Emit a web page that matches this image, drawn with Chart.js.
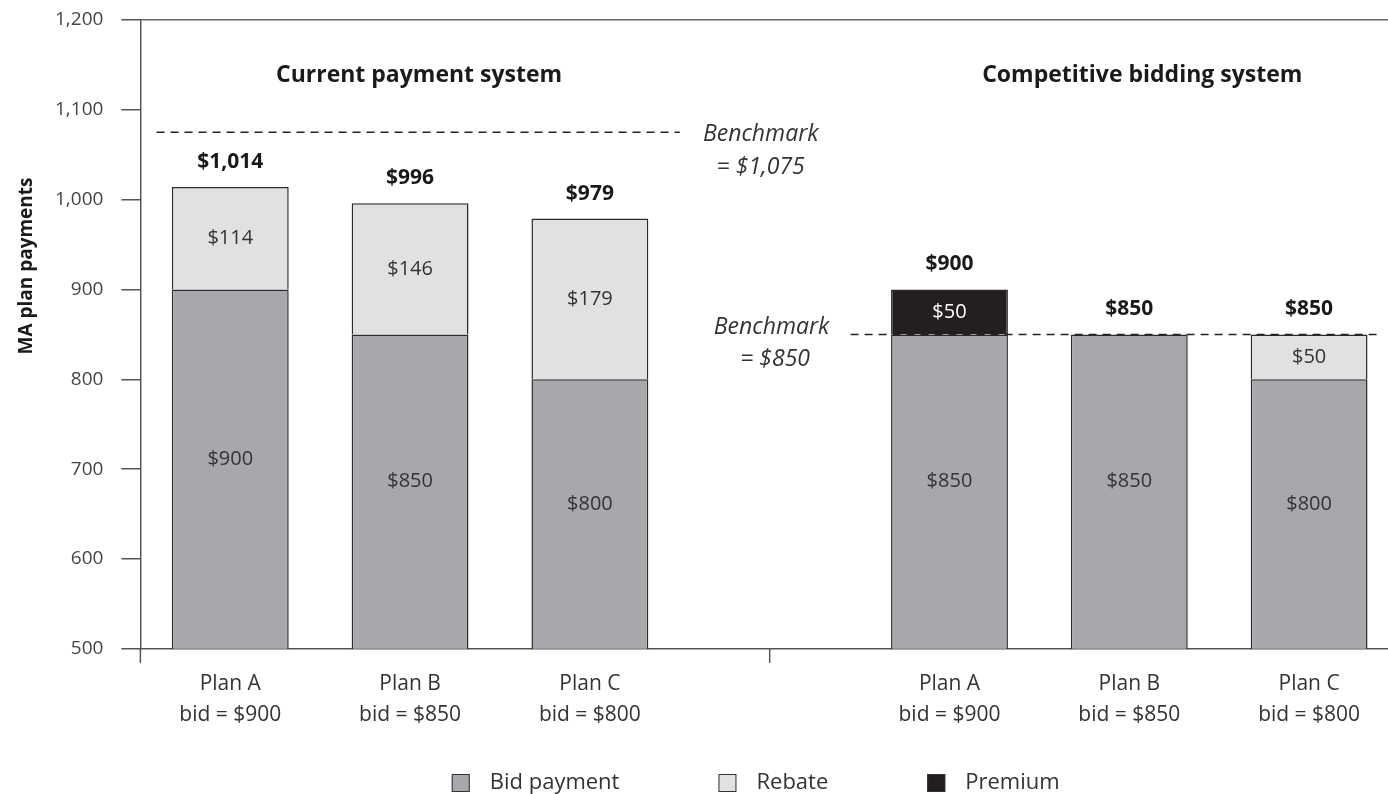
<!DOCTYPE html>
<html>
<head>
<meta charset="utf-8">
<script src="https://cdn.jsdelivr.net/npm/chart.js@4.4.1/dist/chart.umd.min.js"></script>
<style>
  html, body { margin: 0; padding: 0; background: #fff; overflow: hidden; }
  #wrap { width: 1400px; height: 794px; }
</style>
</head>
<body>
<div id="wrap"><canvas id="chartPagos" width="1400" height="794"></canvas></div>
<script>
// plan columns; the empty slot separates the two payment systems
const categories = [
  ['Plan A', 'bid = $900'], ['Plan B', 'bid = $850'], ['Plan C', 'bid = $800'],
  '',
  ['Plan A', 'bid = $900'], ['Plan B', 'bid = $850'], ['Plan C', 'bid = $800']
];
const bidPayment = [900, 850, 800, null, 850, 850, 800];
const rebate     = [114, 146, 179, null, null, null, 50];
const premium    = [null, null, null, null, 50, null, null];
const benchmarks = [1075, 850];
const groupTitles = ['Current payment system', 'Competitive bidding system'];
const yTicks = [500, 600, 700, 800, 900, 1000, 1100, 1200];

const FONT = '"Open Sans", "Noto Sans", sans-serif';
const money = v => '$' + v.toLocaleString('en-US');

// labels, benchmark lines, titles and the two small x ticks
const annotations = {
  id: 'annotations',
  afterDatasetsDraw(chart) {
    const { ctx, chartArea } = chart;
    const x = chart.scales.x, y = chart.scales.y;
    const slot = x.getPixelForValue(1) - x.getPixelForValue(0);
    const xAt = f => x.getPixelForValue(0) + f * slot;

    ctx.save();
    ctx.textAlign = 'center';
    ctx.textBaseline = 'middle';

    // segment values
    const labelBase = y.getPixelForValue(y.min) - 20;
    chart.data.datasets.forEach((ds, di) => {
      const meta = chart.getDatasetMeta(di);
      meta.data.forEach((bar, i) => {
        const v = ds.data[i];
        if (v == null) return;
        const p = bar.getProps(['x', 'y', 'base'], true);
        const cy = di === 0 ? (p.y + labelBase) / 2 : (p.y + p.base) / 2;
        ctx.font = '20px ' + FONT;
        ctx.fillStyle = di === 2 ? '#ffffff' : '#333333';
        ctx.fillText(money(v), p.x, cy);
      });
    });

    // stack totals
    ctx.font = 'bold 21px ' + FONT;
    ctx.fillStyle = '#1a1a1a';
    categories.forEach((c, i) => {
      const total = chart.data.datasets.reduce((s, ds) => s + (ds.data[i] || 0), 0);
      if (!total) return;
      ctx.fillText(money(total), x.getPixelForValue(i), y.getPixelForValue(total) - 25);
    });

    // benchmark lines
    const spans = [[-0.41, 2.5], [3.45, 6.38]];
    ctx.strokeStyle = '#222';
    ctx.lineWidth = 1.5;
    ctx.setLineDash([8, 6]);
    benchmarks.forEach((b, k) => {
      const by = y.getPixelForValue(b);
      ctx.beginPath();
      ctx.moveTo(xAt(spans[k][0]), by);
      ctx.lineTo(xAt(spans[k][1]), by);
      ctx.stroke();
    });
    ctx.setLineDash([]);

    ctx.font = 'italic 23px ' + FONT;
    ctx.fillStyle = '#333';
    const b1 = y.getPixelForValue(benchmarks[0]);
    ctx.fillText('Benchmark', xAt(2.95), b1 + 2);
    ctx.fillText('= ' + money(benchmarks[0]), xAt(2.95), b1 + 35);
    const b2 = y.getPixelForValue(benchmarks[1]);
    ctx.fillText('Benchmark', xAt(3.01), b2 - 7);
    ctx.fillText('= ' + money(benchmarks[1]), xAt(3.03), b2 + 25);

    // group headings
    ctx.font = 'bold 23px ' + FONT;
    ctx.fillStyle = '#1a1a1a';
    ctx.fillText(groupTitles[0], x.getPixelForValue(1) + 9, chartArea.top + 55);
    ctx.fillText(groupTitles[1], x.getPixelForValue(5) + 13, chartArea.top + 55);

    // x tick marks: axis origin and the group divider
    ctx.strokeStyle = '#555';
    ctx.lineWidth = 1.5;
    [chartArea.left, x.getPixelForValue(3)].forEach(px => {
      ctx.beginPath();
      ctx.moveTo(px, chartArea.bottom);
      ctx.lineTo(px, chartArea.bottom + 14);
      ctx.stroke();
    });

    // y axis title
    ctx.translate(27, 266);
    ctx.rotate(-Math.PI / 2);
    ctx.font = 'bold 19px ' + FONT;
    ctx.fillStyle = '#1a1a1a';
    ctx.fillText('MA plan payments', 0, 0);
    ctx.restore();
  }
};

// legend row under the axis labels
const bottomLegend = {
  id: 'bottomLegend',
  afterDraw(chart) {
    const { ctx, chartArea } = chart;
    const box = 18, gapText = 20, gapItem = 99;
    ctx.save();
    ctx.font = '22px ' + FONT;
    const items = chart.data.datasets.map(ds => ({
      label: ds.label, color: ds.backgroundColor, w: ctx.measureText(ds.label).width
    }));
    const total = items.reduce((s, it) => s + box + gapText + it.w, 0) + gapItem * (items.length - 1);
    let cx = (chartArea.left + chartArea.right) / 2 - 14 - total / 2;
    const cy = 783;
    ctx.textBaseline = 'middle';
    items.forEach(it => {
      ctx.fillStyle = it.color;
      ctx.fillRect(cx, cy - box / 2, box, box);
      ctx.strokeStyle = '#333';
      ctx.lineWidth = 1;
      ctx.strokeRect(cx + 0.5, cy - box / 2 + 0.5, box - 1, box - 1);
      ctx.fillStyle = '#333';
      ctx.fillText(it.label, cx + box + gapText, cy);
      cx += box + gapText + it.w + gapItem;
    });
    ctx.restore();
  }
};

const barStyle = {
  borderColor: '#2b2b2b',
  borderWidth: 1.5,
  barPercentage: 0.65,
  categoryPercentage: 1
};

new Chart(document.getElementById('chartPagos'), {
  type: 'bar',
  data: {
    labels: categories,
    datasets: [
      { label: 'Bid payment', data: bidPayment, backgroundColor: '#a7a8ab', borderSkipped: false, ...barStyle },
      { label: 'Rebate', data: rebate, backgroundColor: '#e0e1e3', borderSkipped: 'bottom', ...barStyle },
      { label: 'Premium', data: premium, backgroundColor: '#231f20', borderSkipped: 'bottom', ...barStyle }
    ]
  },
  options: {
    responsive: false,
    animation: false,
    layout: { padding: { left: 37, right: 1, top: 20, bottom: 51 } },
    plugins: {
      legend: { display: false },
      tooltip: { enabled: false }
    },
    scales: {
      x: {
        stacked: true,
        grid: { display: false },
        border: { display: true, color: '#555', width: 1.5 },
        ticks: {
          font: { family: FONT, size: 21, lineHeight: 1.48 },
          color: '#333',
          padding: 12,
          maxRotation: 0,
          autoSkip: false
        }
      },
      y: {
        stacked: true,
        min: 500,
        max: 1200,
        afterBuildTicks: scale => { scale.ticks = yTicks.map(v => ({ value: v })); },
        // let the 1,200 label sit above the plot without pushing it down
        afterFit: scale => { scale.paddingTop = 0; scale.paddingBottom = 0; },
        grid: {
          color: ctx => (ctx.tick && ctx.tick.value === 1200 ? '#666' : 'rgba(0,0,0,0)'),
          tickColor: '#555',
          tickLength: 19,
          lineWidth: 1.5
        },
        border: { color: '#555', width: 1.5 },
        ticks: {
          font: { family: FONT, size: 19 },
          color: '#444',
          padding: 18,
          callback: v => v.toLocaleString('en-US')
        }
      }
    }
  },
  plugins: [annotations, bottomLegend]
});
</script>
</body>
</html>
